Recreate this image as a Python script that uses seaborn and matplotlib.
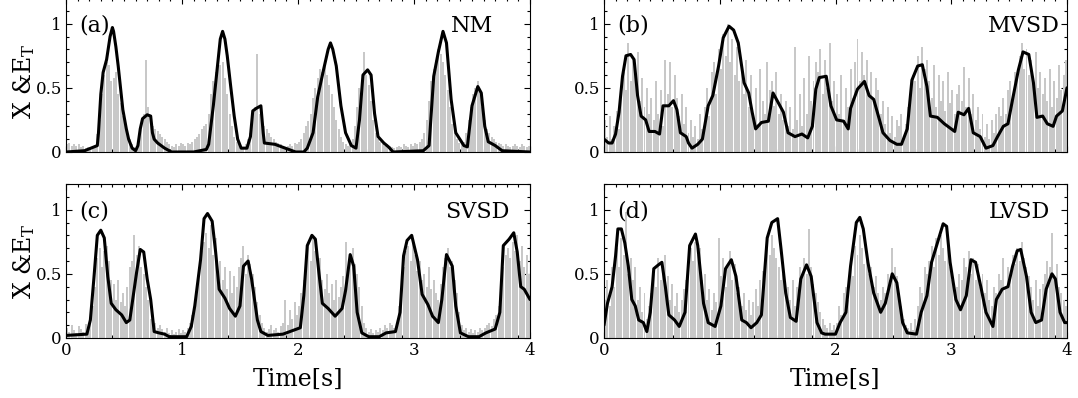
import numpy as np
import matplotlib
matplotlib.use("Agg")
import matplotlib.pyplot as plt
from matplotlib.ticker import MultipleLocator
import seaborn as sns

# ---- data -------------------------------------------------------------
panel_tags = ["(a)", "(b)", "(c)", "(d)"]
panel_names = ["NM", "MVSD", "SVSD", "LVSD"]

# sampled envelope energy E_T (one sample every 0.02 s, 0.01 .. 3.99 s)
et_nm = [
    .06, .07, .05, .06, .05, .06, .04, .05, .03, .04, .02, .03, .05, .14, .25, .45, .60, .70, .68, .55,
    .58, .62, .45, .38, .28, .22, .15, .10, .06, .04, .03, .08, .20, .30, .72, .35, .25, .20, .18, .16,
    .14, .12, .10, .08, .06, .05, .04, .06, .05, .07, .06, .05, .07, .06, .08, .10, .12, .14, .18, .20,
    .22, .30, .45, .55, .62, .70, .68, .70, .58, .45, .30, .20, .12, .08, .06, .05, .04, .06, .10, .15,
    .30, .35, .76, .30, .22, .20, .18, .15, .12, .10, .08, .07, .06, .05, .04, .05, .06, .05, .07, .06,
    .08, .10, .15, .20, .24, .30, .42, .50, .58, .65, .62, .68, .60, .52, .45, .35, .25, .18, .12, .08,
    .06, .05, .07, .10, .20, .35, .50, .55, .78, .60, .52, .40, .25, .15, .10, .08, .06, .05, .06, .05,
    .04, .03, .04, .05, .04, .06, .05, .04, .06, .05, .07, .06, .08, .10, .15, .25, .40, .55, .65, .72,
    .80, .76, .70, .60, .48, .35, .22, .15, .10, .07, .06, .08, .15, .25, .35, .45, .50, .55, .48, .35,
    .25, .18, .15, .12, .10, .08, .07, .06, .05, .06, .05, .04, .05, .06, .05, .04, .06, .05, .04, .05,
]
et_mvsd = [
    .25, .12, .28, .10, .20, .32, .18, .45, .62, .48, .85, .55, .72, .60, .78, .40, .58, .35, .50, .30,
    .42, .25, .55, .30, .48, .20, .72, .45, .70, .35, .60, .42, .28, .45, .22, .35, .15, .25, .12, .20,
    .10, .30, .18, .35, .50, .28, .62, .70, .45, .80, .65, .92, .75, 1.0, .70, .88, .60, .82, .55, .68,
    .45, .72, .35, .60, .28, .50, .22, .65, .40, .30, .70, .48, .55, .36, .62, .30, .45, .25, .40, .20,
    .35, .18, .82, .25, .45, .20, .58, .30, .75, .40, .55, .70, .62, .80, .45, .72, .50, .85, .40, .55,
    .45, .30, .60, .25, .50, .35, .65, .42, .70, .88, .55, .78, .60, .72, .45, .62, .38, .58, .48, .30,
    .40, .22, .35, .15, .28, .12, .25, .20, .30, .10, .22, .35, .45, .60, .55, .75, .50, .82, .65, .72,
    .55, .42, .68, .35, .60, .40, .55, .32, .62, .38, .48, .30, .45, .52, .40, .66, .35, .58, .30, .45,
    .25, .35, .18, .30, .12, .22, .10, .25, .15, .30, .35, .28, .42, .30, .48, .55, .40, .62, .58, .75,
    .85, .65, .80, .60, .72, .55, .78, .50, .62, .45, .58, .40, .65, .35, .55, .42, .68, .48, .60, .72,
]
et_svsd = [
    .08, .05, .10, .06, .04, .09, .07, .05, .11, .06, .15, .25, .40, .62, .70, .55, .68, .72, .60, .45,
    .42, .30, .45, .28, .35, .25, .40, .55, .60, .80, .65, .72, .55, .50, .40, .30, .15, .10, .12, .08,
    .10, .07, .05, .08, .04, .06, .03, .05, .07, .04, .06, .05, .08, .12, .18, .30, .42, .55, .68, .75,
    .82, .70, .88, .65, .78, .50, .60, .45, .55, .38, .52, .35, .48, .40, .55, .62, .72, .50, .65, .58,
    .50, .40, .28, .18, .12, .08, .05, .07, .10, .06, .08, .05, .09, .12, .30, .10, .22, .15, .28, .18,
    .25, .35, .45, .65, .72, .60, .78, .68, .55, .62, .45, .38, .50, .35, .42, .30, .45, .32, .40, .48,
    .75, .55, .62, .70, .58, .50, .40, .25, .12, .08, .05, .07, .04, .06, .05, .08, .06, .10, .08, .12,
    .10, .08, .12, .25, .30, .55, .68, .72, .60, .75, .65, .52, .60, .45, .50, .40, .55, .38, .45, .35,
    .30, .42, .55, .62, .70, .55, .60, .45, .35, .20, .10, .06, .08, .05, .07, .04, .06, .05, .08, .06,
    .08, .10, .12, .09, .15, .18, .25, .40, .55, .65, .70, .62, .75, .68, .80, .60, .72, .55, .65, .50,
]
et_lvsd = [
    .30, .45, .25, .55, .40, .70, .55, .78, .65, .98, .50, .62, .45, .55, .30, .40, .20, .35, .15, .25,
    .35, .50, .40, .62, .45, .55, .65, .48, .30, .42, .25, .35, .20, .30, .38, .45, .58, .70, .60, .75,
    .65, .70, .45, .50, .30, .38, .22, .35, .28, .78, .48, .62, .40, .55, .68, .45, .58, .35, .40, .25,
    .35, .22, .30, .18, .28, .38, .25, .45, .52, .60, .72, .65, .80, .70, .62, .55, .45, .50, .35, .40,
    .30, .45, .25, .40, .55, .48, .62, .50, .85, .55, .42, .35, .28, .20, .15, .10, .08, .12, .06, .10,
    .12, .25, .18, .35, .40, .30, .55, .48, .72, .65, .80, .70, .58, .62, .50, .55, .40, .48, .35, .30,
    .40, .35, .50, .45, .70, .55, .48, .35, .25, .15, .10, .08, .12, .06, .15, .25, .40, .35, .55, .50,
    .60, .72, .55, .78, .65, .80, .70, .60, .75, .55, .45, .35, .40, .50, .45, .62, .55, .68, .50, .62,
    .45, .58, .40, .50, .35, .45, .30, .25, .40, .35, .50, .45, .62, .40, .55, .48, .65, .58, .70, .60,
    .75, .62, .55, .48, .40, .30, .45, .25, .38, .42, .50, .60, .55, .82, .48, .58, .40, .35, .30, .25,
]

# smoothed state X
x_nm_t = [0.0, 0.16, 0.27, 0.28, 0.30, 0.32, 0.35, 0.38, 0.40, 0.41, 0.43, 0.45, 0.47, 0.49, 0.52,
          0.54, 0.57, 0.60, 0.62, 0.64, 0.66, 0.70, 0.73, 0.745, 0.76, 0.79, 0.85, 0.91, 1.10, 1.21,
          1.23, 1.27, 1.30, 1.33, 1.35, 1.37, 1.39, 1.42, 1.45, 1.48, 1.51, 1.56, 1.59, 1.61, 1.64,
          1.68, 1.70, 1.71, 1.80, 1.89, 1.98, 2.05, 2.08, 2.13, 2.17, 2.22, 2.26, 2.28, 2.30, 2.33,
          2.37, 2.41, 2.46, 2.50, 2.53, 2.56, 2.60, 2.63, 2.66, 2.69, 2.74, 2.78, 2.82, 3.08, 3.13,
          3.17, 3.21, 3.25, 3.28, 3.32, 3.36, 3.43, 3.46, 3.50, 3.55, 3.58, 3.61, 3.64, 3.70, 3.76, 4.0]
x_nm = [0.0, 0.01, 0.05, 0.15, 0.45, 0.62, 0.72, 0.90, 0.97, 0.94, 0.82, 0.67, 0.50, 0.33, 0.18,
        0.10, 0.03, 0.01, 0.05, 0.18, 0.26, 0.29, 0.28, 0.15, 0.10, 0.07, 0.03, 0.0, 0.0, 0.02,
        0.06, 0.36, 0.62, 0.88, 0.94, 0.88, 0.75, 0.51, 0.28, 0.10, 0.03, 0.03, 0.12, 0.32, 0.34,
        0.36, 0.15, 0.07, 0.06, 0.03, 0.0, 0.0, 0.03, 0.15, 0.43, 0.64, 0.80, 0.85, 0.80, 0.67,
        0.36, 0.15, 0.05, 0.03, 0.25, 0.60, 0.64, 0.60, 0.30, 0.12, 0.07, 0.04, 0.0, 0.01, 0.05,
        0.59, 0.78, 0.94, 0.85, 0.41, 0.15, 0.05, 0.04, 0.36, 0.51, 0.46, 0.20, 0.08, 0.05, 0.01, 0.0]

x_mvsd_t = [0.0, 0.04, 0.07, 0.10, 0.13, 0.16, 0.19, 0.23, 0.26, 0.29, 0.32, 0.36, 0.39, 0.44, 0.48,
            0.51, 0.56, 0.60, 0.63, 0.66, 0.71, 0.73, 0.76, 0.81, 0.85, 0.90, 0.94, 0.99, 1.03, 1.08,
            1.12, 1.16, 1.21, 1.25, 1.28, 1.31, 1.36, 1.42, 1.46, 1.49, 1.55, 1.59, 1.65, 1.71, 1.76,
            1.80, 1.83, 1.86, 1.92, 1.96, 2.01, 2.07, 2.11, 2.13, 2.19, 2.25, 2.29, 2.33, 2.38, 2.41,
            2.47, 2.53, 2.57, 2.62, 2.66, 2.71, 2.75, 2.79, 2.82, 2.88, 2.94, 3.00, 3.03, 3.06, 3.11,
            3.15, 3.19, 3.25, 3.30, 3.36, 3.40, 3.45, 3.49, 3.53, 3.58, 3.62, 3.67, 3.71, 3.74, 3.79,
            3.83, 3.88, 3.91, 3.96, 4.0]
x_mvsd = [0.10, 0.07, 0.07, 0.14, 0.31, 0.59, 0.75, 0.76, 0.72, 0.44, 0.28, 0.25, 0.16, 0.16, 0.14,
          0.36, 0.36, 0.40, 0.33, 0.15, 0.12, 0.07, 0.03, 0.06, 0.10, 0.36, 0.44, 0.67, 0.89, 0.98,
          0.95, 0.85, 0.54, 0.46, 0.31, 0.18, 0.23, 0.24, 0.46, 0.41, 0.31, 0.15, 0.12, 0.14, 0.11,
          0.20, 0.49, 0.58, 0.59, 0.36, 0.25, 0.24, 0.18, 0.34, 0.49, 0.55, 0.44, 0.41, 0.25, 0.15,
          0.09, 0.06, 0.06, 0.18, 0.56, 0.67, 0.68, 0.51, 0.28, 0.27, 0.22, 0.18, 0.16, 0.31, 0.29,
          0.34, 0.15, 0.12, 0.03, 0.05, 0.12, 0.20, 0.22, 0.41, 0.64, 0.78, 0.76, 0.54, 0.27, 0.28,
          0.22, 0.20, 0.28, 0.32, 0.50]

x_svsd_t = [0.0, 0.18, 0.21, 0.24, 0.27, 0.30, 0.33, 0.36, 0.39, 0.43, 0.48, 0.52, 0.55, 0.58, 0.61,
            0.64, 0.67, 0.70, 0.73, 0.76, 0.80, 0.85, 0.89, 1.04, 1.08, 1.11, 1.16, 1.19, 1.22, 1.26,
            1.29, 1.32, 1.37, 1.41, 1.46, 1.50, 1.53, 1.57, 1.60, 1.65, 1.68, 1.74, 1.87, 1.93, 2.02,
            2.05, 2.08, 2.12, 2.15, 2.18, 2.21, 2.26, 2.32, 2.38, 2.41, 2.45, 2.48, 2.51, 2.55, 2.61,
            2.70, 2.76, 2.84, 2.88, 2.91, 2.94, 2.98, 3.03, 3.07, 3.12, 3.16, 3.21, 3.24, 3.28, 3.33,
            3.36, 3.40, 3.47, 3.56, 3.62, 3.70, 3.74, 3.77, 3.82, 3.86, 3.89, 3.92, 3.95, 4.0]
x_svsd = [0.02, 0.03, 0.14, 0.46, 0.80, 0.84, 0.78, 0.48, 0.27, 0.22, 0.18, 0.12, 0.14, 0.33, 0.52,
          0.69, 0.67, 0.46, 0.30, 0.05, 0.04, 0.03, 0.01, 0.01, 0.09, 0.25, 0.61, 0.93, 0.97, 0.91,
          0.67, 0.38, 0.31, 0.23, 0.17, 0.25, 0.56, 0.60, 0.46, 0.14, 0.05, 0.02, 0.03, 0.05, 0.08,
          0.33, 0.72, 0.80, 0.77, 0.51, 0.27, 0.23, 0.17, 0.23, 0.37, 0.65, 0.56, 0.20, 0.04, 0.01,
          0.01, 0.04, 0.05, 0.20, 0.64, 0.76, 0.80, 0.61, 0.34, 0.26, 0.17, 0.12, 0.30, 0.65, 0.56,
          0.25, 0.04, 0.01, 0.01, 0.04, 0.07, 0.20, 0.72, 0.77, 0.82, 0.67, 0.40, 0.38, 0.30]

x_lvsd_t = [0.0, 0.03, 0.07, 0.10, 0.12, 0.15, 0.18, 0.21, 0.24, 0.27, 0.30, 0.34, 0.37, 0.40, 0.43,
            0.47, 0.50, 0.53, 0.56, 0.61, 0.65, 0.70, 0.74, 0.79, 0.81, 0.86, 0.90, 0.96, 1.01, 1.05,
            1.10, 1.14, 1.19, 1.23, 1.27, 1.32, 1.36, 1.41, 1.45, 1.50, 1.53, 1.57, 1.61, 1.66, 1.70,
            1.75, 1.79, 1.84, 1.88, 1.91, 2.00, 2.04, 2.09, 2.13, 2.18, 2.21, 2.24, 2.28, 2.33, 2.39,
            2.43, 2.49, 2.53, 2.58, 2.62, 2.70, 2.74, 2.79, 2.83, 2.89, 2.93, 2.96, 2.99, 3.04, 3.08,
            3.13, 3.17, 3.21, 3.26, 3.30, 3.36, 3.39, 3.44, 3.49, 3.53, 3.57, 3.60, 3.65, 3.69, 3.73,
            3.78, 3.82, 3.87, 3.90, 3.94, 3.98, 4.0]
x_lvsd = [0.10, 0.27, 0.40, 0.64, 0.85, 0.85, 0.74, 0.56, 0.30, 0.25, 0.14, 0.12, 0.05, 0.20, 0.54,
          0.57, 0.59, 0.40, 0.18, 0.14, 0.09, 0.20, 0.72, 0.81, 0.72, 0.27, 0.12, 0.09, 0.25, 0.54,
          0.61, 0.48, 0.14, 0.12, 0.08, 0.12, 0.18, 0.78, 0.90, 0.93, 0.69, 0.35, 0.16, 0.13, 0.46,
          0.57, 0.48, 0.12, 0.04, 0.03, 0.03, 0.12, 0.20, 0.56, 0.90, 0.94, 0.85, 0.59, 0.35, 0.20,
          0.27, 0.50, 0.43, 0.12, 0.04, 0.03, 0.20, 0.33, 0.59, 0.77, 0.89, 0.87, 0.59, 0.30, 0.22,
          0.33, 0.61, 0.59, 0.38, 0.20, 0.09, 0.30, 0.38, 0.40, 0.56, 0.68, 0.69, 0.48, 0.20, 0.12,
          0.14, 0.38, 0.50, 0.46, 0.20, 0.12, 0.12]

et_series = [et_nm, et_mvsd, et_svsd, et_lvsd]
x_series = [(x_nm_t, x_nm), (x_mvsd_t, x_mvsd), (x_svsd_t, x_svsd), (x_lvsd_t, x_lvsd)]
et_time = 0.01 + 0.02 * np.arange(len(et_nm))

# ---- style ------------------------------------------------------------
sns.set_theme(style="ticks")
plt.rcParams["font.family"] = ["DejaVu Serif"]
plt.rcParams["mathtext.fontset"] = "dejavuserif"
plt.rcParams["axes.linewidth"] = 0.8
plt.rcParams["text.color"] = "black"
plt.rcParams["axes.labelcolor"] = "black"
plt.rcParams["xtick.color"] = "black"
plt.rcParams["ytick.color"] = "black"

W, H = 1078, 398
fig = plt.figure(figsize=(W / 100, H / 100), dpi=100)

# axes boxes in pixels: (left, top, right, bottom)
boxes = [(66, -2, 530, 152), (604, -2, 1067, 152),
         (66, 184, 530, 338), (604, 184, 1067, 338)]

for i, (l, t, r, b) in enumerate(boxes):
    ax = fig.add_axes([l / W, (H - b) / H, (r - l) / W, (b - t) / H])
    ax.bar(et_time, et_series[i], width=0.017, color="#c8c8c8", linewidth=0, zorder=1)
    xt, xv = x_series[i]
    sns.lineplot(x=xt, y=xv, ax=ax, color="black", linewidth=2.2, sort=False, zorder=3,
                 solid_joinstyle="round", solid_capstyle="round")

    ax.set_xlim(0, 4)
    ax.set_ylim(0, 1.2)
    ax.xaxis.set_major_locator(MultipleLocator(1))
    ax.xaxis.set_minor_locator(MultipleLocator(0.1))
    ax.yaxis.set_major_locator(MultipleLocator(0.5))
    ax.yaxis.set_minor_locator(MultipleLocator(0.1))
    ax.set_yticks([0, 0.5, 1])
    ax.set_yticklabels(["0", "0.5", "1"])
    ax.tick_params(which="both", direction="in", top=True, right=True,
                   labelsize=12, colors="black", width=0.8, pad=3)
    ax.tick_params(which="major", length=4)
    ax.tick_params(which="minor", length=2)
    for s in ax.spines.values():
        s.set_color("black")

    if i < 2:
        ax.set_xticklabels([])
        ax.set_xlabel("")
    else:
        ax.set_xticks([0, 1, 2, 3, 4])
        ax.set_xticklabels(["0", "1", "2", "3", "4"])
        ax.set_xlabel("Time[s]", fontsize=17, labelpad=6)
    if i % 2 == 0:
        ax.set_ylabel(r"X &$\mathrm{E}_\mathrm{T}$", fontsize=17)
        ax.yaxis.set_label_coords(-0.062, 0.46 if i == 0 else 0.5)
    else:
        ax.set_ylabel("")

    ax.text(0.028, 0.82, panel_tags[i], transform=ax.transAxes,
            fontsize=16, ha="left", va="center")
    ax.text(0.83 if i != 2 else 0.817, 0.82, panel_names[i], transform=ax.transAxes,
            fontsize=16, ha="left", va="center")

fig.savefig("out.png", dpi=100)
